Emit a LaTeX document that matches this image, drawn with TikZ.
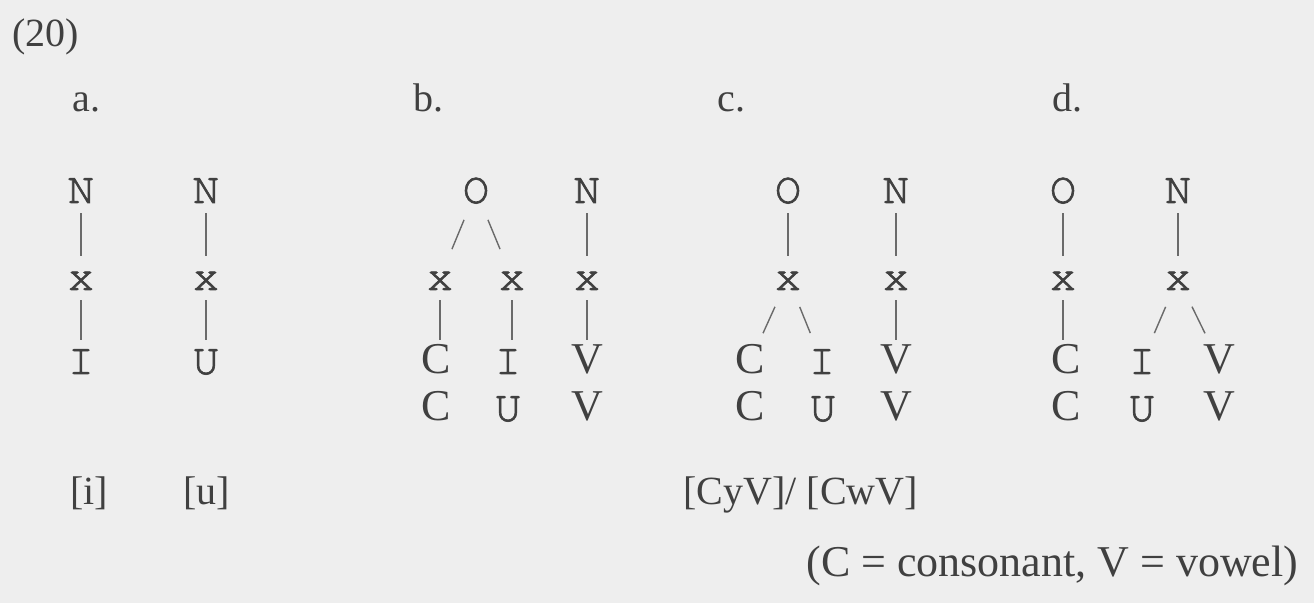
\documentclass[tikz,border=0pt]{standalone}
\usepackage{fontspec}
\setmainfont{Liberation Serif}
\newfontfamily\curf[FakeBold=1.6]{texgyrecursor-regular.otf}
\definecolor{ink}{HTML}{404040}
\definecolor{paper}{HTML}{EEEEEE}
\definecolor{rulec}{HTML}{6A6A6A}
\tikzset{
 mono/.style={font=\curf\fontsize{22}{22}\selectfont, text=ink, anchor=base, inner xsep=2pt, inner ysep=5pt, text height=12pt, text depth=0pt},
 ser/.style={font=\fontsize{22}{22}\selectfont, text=ink, anchor=base, inner xsep=2pt, inner ysep=5pt, text height=12pt, text depth=0pt},
 lab/.style={font=\fontsize{20}{20}\selectfont, text=ink, anchor=base west, inner sep=0pt},
 note/.style={font=\fontsize{22}{22}\selectfont, text=ink, anchor=base west, inner sep=0pt},
 br/.style={draw=rulec, line width=0.7pt},
 diag/.style={br, shorten <=3.5pt, shorten >=3.5pt},
}
\begin{document}
\begin{tikzpicture}[x=0.5pt,y=-0.5pt]
\fill[paper] (0,0) rectangle (1314,603);
\useasboundingbox (0,0) rectangle (1314,603);

% labels
\node[lab] (num) at (12,47) {(20)};
\node[lab] (la) at (72,112) {a.};
\node[lab] (lb) at (413,112) {b.};
\node[lab] (lc) at (717,112) {c.};
\node[lab] (ld) at (1052,112) {d.};

% a
\node[mono] (aN1) at (81,203) {N};
\node[mono] (ax1) at (81,290) {x};
\node[mono] (aI) at (81,374) {I};
\node[mono] (aN2) at (206,203) {N};
\node[mono] (ax2) at (206,290) {x};
\node[mono] (aU) at (206,374) {U};
\draw[br] (aN1.south) -- (aN1.south |- ax1.north);
\draw[br] (ax1.south) -- (ax1.south |- aI.north);
\draw[br] (aN2.south) -- (aN2.south |- ax2.north);
\draw[br] (ax2.south) -- (ax2.south |- aU.north);

% b
\node[mono] (bO) at (476,203) {O};
\node[mono] (bN) at (587,203) {N};
\node[mono] (bx1) at (440,290) {x};
\node[mono] (bx2) at (512,290) {x};
\node[mono] (bx3) at (587,290) {x};
\node[ser] (bC) at (436,374) {C};
\node[mono] (bI) at (508,374) {I};
\node[ser] (bV) at (587,374) {V};
\node[ser] (bC2) at (436,421) {C};
\node[mono] (bU) at (508,421) {U};
\node[ser] (bV2) at (587,421) {V};
\draw[diag] (bO) -- (bx1);
\draw[diag] (bO) -- (bx2);
\draw[br] (bN.south) -- (bN.south |- bx3.north);
\draw[br] (bx1.south) -- (bx1.south |- bC.north);
\draw[br] (bx2.south) -- (bx2.south |- bI.north);
\draw[br] (bx3.south) -- (bx3.south |- bV.north);

% c
\node[mono] (cO) at (788,203) {O};
\node[mono] (cN) at (896,203) {N};
\node[mono] (cx1) at (788,290) {x};
\node[mono] (cx2) at (896,290) {x};
\node[ser] (cC) at (750,374) {C};
\node[mono] (cI) at (822,374) {I};
\node[ser] (cV) at (896,374) {V};
\node[ser] (cC2) at (750,421) {C};
\node[mono] (cU) at (823,421) {U};
\node[ser] (cV2) at (896,421) {V};
\draw[br] (cO.south) -- (cO.south |- cx1.north);
\draw[br] (cN.south) -- (cN.south |- cx2.north);
\draw[diag] (cx1) -- (cC);
\draw[diag] (cx1) -- (cI);
\draw[br] (cx2.south) -- (cx2.south |- cV.north);

% d
\node[mono] (dO) at (1063,203) {O};
\node[mono] (dN) at (1178,203) {N};
\node[mono] (dx1) at (1063,290) {x};
\node[mono] (dx2) at (1178,290) {x};
\node[ser] (dC) at (1066,374) {C};
\node[mono] (dI) at (1142,374) {I};
\node[ser] (dV) at (1219,374) {V};
\node[ser] (dC2) at (1066,421) {C};
\node[mono] (dU) at (1142,421) {U};
\node[ser] (dV2) at (1219,421) {V};
\draw[br] (dO.south) -- (dO.south |- dx1.north);
\draw[br] (dN.south) -- (dN.south |- dx2.north);
\draw[br] (dx1.south) -- (dx1.south |- dC.north);
\draw[diag] (dx2) -- (dI);
\draw[diag] (dx2) -- (dV);

% bottom labels
\node[lab] (li) at (70,505) {[i]};
\node[lab] (lu) at (183,505) {[u]};
\node[lab] (lcv) at (683,505) {[CyV]/ [CwV]};
\node[note] (key) at (806,577) {(C = consonant, V = vowel)};
\end{tikzpicture}
\end{document}
